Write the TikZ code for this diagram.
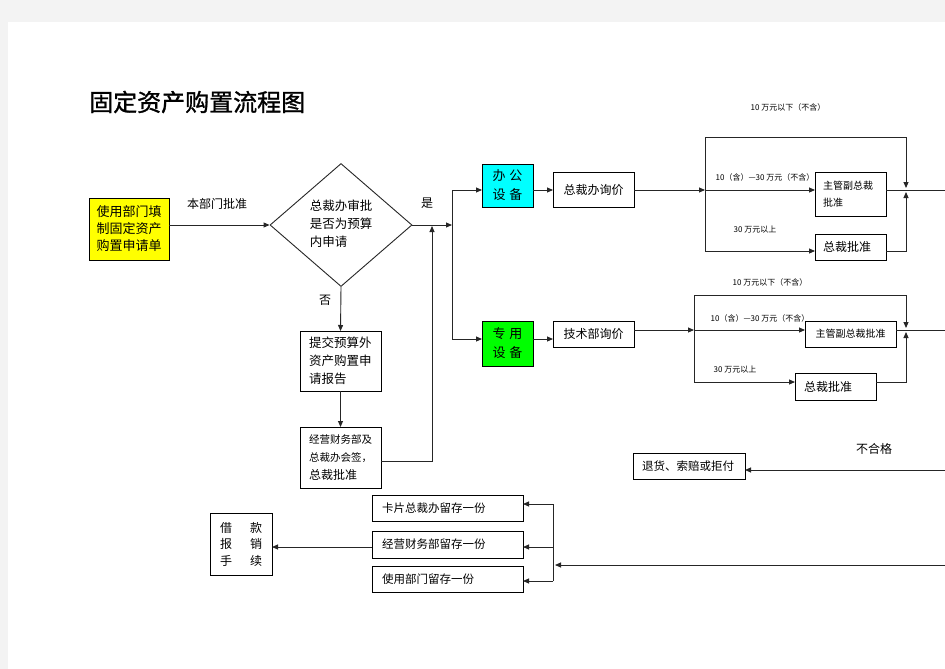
\documentclass[tikz,border=0pt]{standalone}
\usepackage{fontspec}
\setmainfont{Noto Sans CJK SC}
\usetikzlibrary{arrows.meta,shapes.geometric,calc}
\definecolor{bgc}{HTML}{F3F3F3}
\definecolor{cyanb}{RGB}{0,255,255}
\definecolor{greenb}{RGB}{0,255,0}
\definecolor{yellowb}{RGB}{255,255,0}
\tikzset{
  box/.style={draw=black, line width=1pt, rectangle, inner sep=0pt, outer sep=0pt},
  arr/.style={line width=0.9pt, draw=black!85, -{Triangle[length=6pt,width=5pt]}},
  ln/.style={line width=0.9pt, draw=black!85},
  f8/.style={font=\fontsize{8pt}{10pt}\selectfont},
  f10/.style={font=\fontsize{10pt}{17pt}\selectfont},
  f115/.style={font=\fontsize{11.5pt}{15pt}\selectfont},
  f12/.style={font=\fontsize{12pt}{16pt}\selectfont},
  f125/.style={font=\fontsize{12.5pt}{18pt}\selectfont},
  f13/.style={font=\fontsize{13pt}{17pt}\selectfont},
}
\begin{document}
\begin{tikzpicture}[x=1pt,y=-1pt]
\fill[bgc] (0,0) rectangle (945,669);
\fill[white] (8,22) rectangle (945,669);
\useasboundingbox (0,0) rectangle (945,669);

% title
\node[anchor=west, font=\fontsize{24pt}{28pt}\selectfont\addfontfeatures{FakeBold=1.2}, inner sep=0pt] (title) at (89,102) {固定资产购置流程图};

% left part
\node[box, fill=yellowb, minimum width=80pt, minimum height=62pt, align=left, f13] (req) at (129,229) {使用部门填\\制固定资产\\购置申请单};
\node[draw=black!85, line width=0.9pt, diamond, minimum width=142pt, minimum height=123pt, inner sep=0pt] (dia) at (341,225) {};
\node[align=left, f125, inner sep=0pt] (diat) at (341,224) {总裁办审批\\是否为预算\\内申请};
\node[f12] (lbapp) at (217,204) {本部门批准};
\node[f12] (lbyes) at (427,203) {是};
\node[f12] (lbno) at (325,300) {否};
\draw[arr] (req.east |- dia.west) -- (dia.west);

\node[box, minimum width=81pt, minimum height=60pt, text width=63pt, align=left, f125] (tj) at (340.5,361) {提交预算外\\资产购置申\\请报告};
\node[box, minimum width=81pt, minimum height=61pt, text width=63pt, align=left, font=\fontsize{10.5pt}{18pt}\selectfont] (jy) at (340.5,457.5) {经营财务部及\\总裁办会签，\\{\fontsize{12pt}{16pt}\selectfont 总裁批准}};
\draw[arr] (dia.south) -- (tj.north);
\draw[arr] (tj.south) -- (jy.north);
\coordinate (u1) at (432,461);
\coordinate (u2) at (432,226);
\draw[arr] (jy.east |- u1) -- (u1) -- (u2);

\coordinate (j1) at (452,225);
\draw[arr] (dia.east) -- (j1);

% row 1
\node[box, fill=cyanb, minimum width=51pt, minimum height=43pt, align=center, font=\fontsize{13pt}{19pt}\selectfont] (bg) at (507.5,185.5) {办\hspace{4pt}公\\设\hspace{4pt}备};
\node[box, minimum width=81pt, minimum height=35pt, f12] (xj1) at (593.5,189.5) {总裁办询价};
\node[box, minimum width=71pt, minimum height=44pt, text width=55pt, align=left, f10] (zg1) at (850.5,194) {主管副总裁\\批准};
\node[box, minimum width=71pt, minimum height=26pt, text width=55pt, align=left, f12] (zc1) at (850.5,247) {总裁批准};
\coordinate (a1) at (533,190);
\draw[arr] (j1) |- (a1 -| bg.west);
\draw[arr] (a1) -- (xj1.west |- a1);
\coordinate (b1) at (705,190);
\coordinate (c1) at (705,251);
\coordinate (t1a) at (705,137);
\coordinate (t1b) at (906,137);
\coordinate (m1) at (906,190);
\coordinate (m1t) at (906,188);
\coordinate (m1b) at (906,192);
\coordinate (d1) at (906,251);
\coordinate (o1) at (945,190);
\draw[arr] (xj1.east |- b1) -- (b1);
\draw[arr] (b1) -- (zg1.west |- b1);
\draw[arr] (b1) -- (c1) -- (zc1.west |- c1);
\draw[arr] (b1) -- (t1a) -- (t1b) -- (m1t);
\draw[arr] (zc1.east |- c1) -- (d1) -- (m1b);
\draw[ln] (zg1.east |- m1) -- (o1);
\node[f8] (l1a) at (788,107) {10 万元以下（不含）};
\node[f8] (l1b) at (765,177) {10（含）—30 万元（不含）};
\node[f8] (l1c) at (755,230) {30 万元以上};

% row 2
\node[box, fill=greenb, minimum width=51pt, minimum height=45pt, align=center, font=\fontsize{13pt}{19pt}\selectfont] (zy) at (507.5,343.5) {专\hspace{4pt}用\\设\hspace{4pt}备};
\node[box, minimum width=81pt, minimum height=26pt, f12] (js) at (593.5,334) {技术部询价};
\coordinate (a2) at (533,339);
\draw[arr] (j1) |- (a2 -| zy.west);
\draw[arr] (a2) -- (js.west |- a2);
\node[box, minimum width=91pt, minimum height=26pt, f10] (zg2) at (850.5,334) {主管副总裁批准};
\node[box, minimum width=81pt, minimum height=27pt, text width=63pt, align=left, f12] (zc2) at (835.5,386.5) {总裁批准};
\coordinate (b2) at (694,330);
\coordinate (c2) at (694,382);
\coordinate (t2a) at (694,295);
\coordinate (t2b) at (906,295);
\coordinate (m2) at (906,330);
\coordinate (m2t) at (906,328);
\coordinate (m2b) at (906,332);
\coordinate (d2) at (906,382);
\coordinate (o2) at (945,330);
\draw[arr] (js.east |- b2) -- (b2);
\draw[arr] (b2) -- (zg2.west |- b2);
\draw[arr] (b2) -- (c2) -- (zc2.west |- c2);
\draw[arr] (b2) -- (t2a) -- (t2b) -- (m2t);
\draw[arr] (zc2.east |- c2) -- (d2) -- (m2b);
\draw[ln] (zg2.east |- m2) -- (o2);
\node[f8] (l2a) at (770,282) {10 万元以下（不含）};
\node[f8] (l2b) at (760,318) {10（含）—30 万元（不含）};
\node[f8] (l2c) at (735,370) {30 万元以上};

% bottom
\node[box, minimum width=112pt, minimum height=26pt, text width=94pt, align=left, f115] (th) at (689,466) {退货、索赔或拒付};
\node[f12] (lbbad) at (874,449) {不合格};
\coordinate (in2) at (945,470);
\draw[arr] (in2) -- (th.east |- in2);

\node[box, minimum width=151pt, minimum height=26pt, text width=131pt, align=left, f115] (kp) at (447.5,508) {卡片总裁办留存一份};
\node[box, minimum width=151pt, minimum height=27pt, text width=131pt, align=left, f115] (jy2) at (447.5,544.5) {经营财务部留存一份};
\node[box, minimum width=151pt, minimum height=26pt, text width=131pt, align=left, f115] (sy) at (447.5,579) {使用部门留存一份};
\node[box, minimum width=62pt, minimum height=62pt, align=left, font=\fontsize{12pt}{16.5pt}\selectfont] (jk) at (241,544) {借\hspace{18pt}款\\报\hspace{18pt}销\\手\hspace{18pt}续};
\coordinate (in3) at (945,565);
\coordinate (v3t) at (555,565);
\coordinate (v3a) at (553,504);
\coordinate (v3m) at (553,547);
\coordinate (v3b) at (553,581);
\draw[arr] (in3) -- (v3t);
\draw[ln] (v3a) -- (v3b);
\draw[arr] (v3a) -- (kp.east |- v3a);
\draw[arr] (v3m) -- (jy2.east |- v3m);
\draw[arr] (v3b) -- (sy.east |- v3b);
\draw[arr] (jy2.west |- v3m) -- (jk.east |- v3m);
\end{tikzpicture}
\end{document}
